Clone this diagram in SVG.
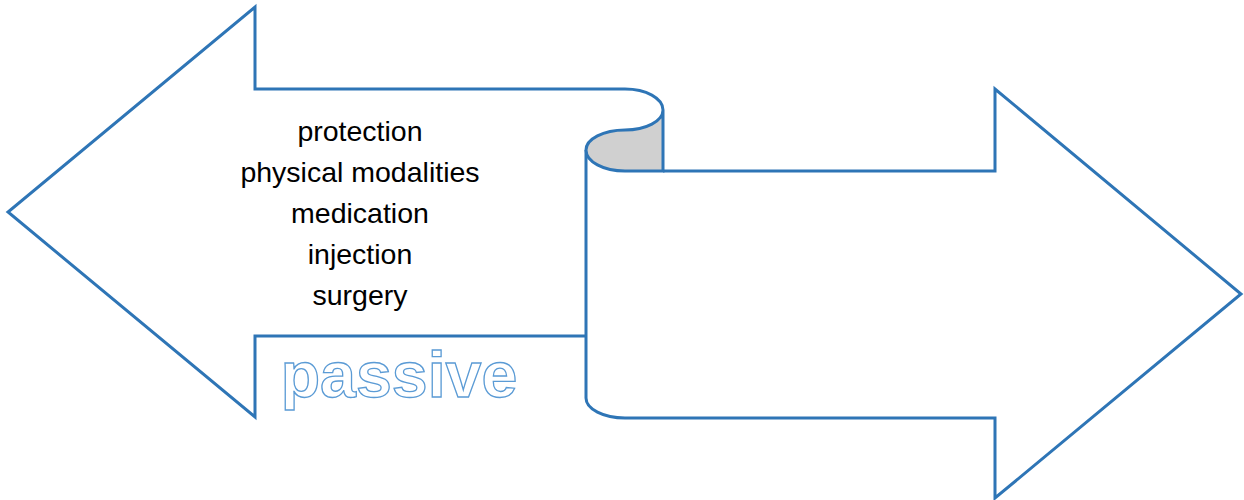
<svg xmlns="http://www.w3.org/2000/svg" width="1244" height="500" viewBox="0 0 1244 500">
<style>
.ln{fill:none;stroke:#2E75B6;stroke-width:3;stroke-linejoin:miter}
.lbl{font-family:"Liberation Sans",Arial,sans-serif;font-size:28.5px;fill:#000;text-anchor:middle}
.ol{font-family:"Liberation Sans",Arial,sans-serif;font-size:64.5px;font-weight:bold;fill:#fff;stroke:#5B9BD5;stroke-width:1.3;text-anchor:middle}
</style>
<rect width="1244" height="500" fill="#fff"/>
<g id="right-arrow">
<path class="ln" d="M663 171 L995 171 L995 89 L1241 294 L995 498 L995 418 L625 418 A39 20 0 0 1 586 398 L586 150"/>
</g>
<g id="left-arrow">
<path class="ln" d="M586 336 L255 336 L255 417 L8 212 L255 7 L255 89 L625 89 A38 21 0 0 1 663 110"/>
<text class="lbl" x="360" y="141">protection</text>
<text class="lbl" x="360" y="182">physical modalities</text>
<text class="lbl" x="360" y="223">medication</text>
<text class="lbl" x="360" y="264">injection</text>
<text class="lbl" x="360" y="305">surgery</text>
<text class="ol" x="399" y="397">passive</text>
</g>
<g id="curl">
<path d="M586 150 A39 20 0 0 1 625 130 A38 20 0 0 0 663 110 L663 171 L625 171 A39 21 0 0 1 586 150 Z" fill="#D0D0D0" stroke="#2E75B6" stroke-width="3"/>
</g>
</svg>
